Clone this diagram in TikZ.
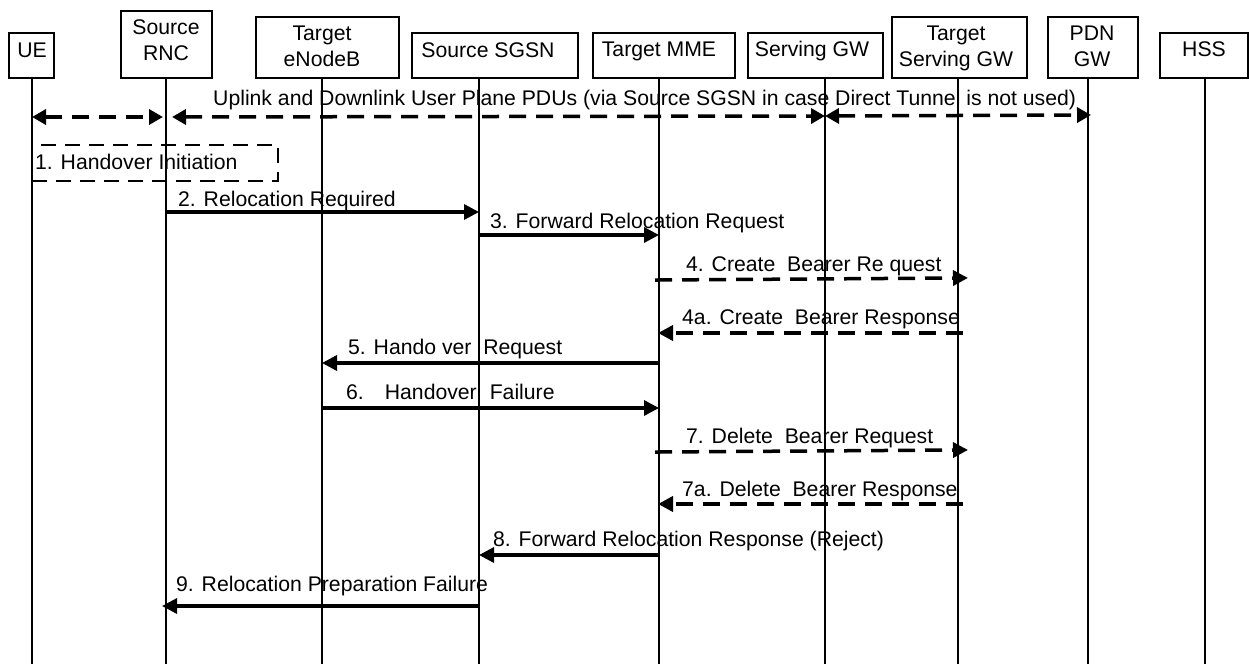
\documentclass[tikz,border=0pt]{standalone}
\usepackage{fontspec}
\setmainfont{Liberation Sans}
\usetikzlibrary{arrows.meta}
\begin{document}
\begin{tikzpicture}[x=1pt,y=-1pt,
  hdrbox/.style={draw, line width=2.9pt, inner sep=0pt},
  hdrtext/.style={align=center, inner sep=0pt, font=\fontsize{21.2}{26}\selectfont},
  msgtext/.style={anchor=base west, inner sep=0pt, font=\fontsize{21.2}{26}\selectfont},
  life/.style={line width=2.3pt},
  solidmsg/.style={line width=3.3pt, -{Triangle[length=15pt,width=15pt]}},
  dashmsg/.style={line width=3.5pt, dash pattern=on 17pt off 10pt, -{Triangle[length=15pt,width=15pt]}},
  dashboth/.style={line width=3.5pt, dash pattern=on 17pt off 10pt, {Triangle[length=14pt,width=15pt]}-{Triangle[length=14pt,width=15pt]}},
]
\useasboundingbox (0,0) rectangle (1249,664);

% header boxes
\node[hdrbox, minimum width=45pt,  minimum height=45pt] (ue)   at (31.5,55.5) {};
\node[hdrbox, minimum width=91pt,  minimum height=67pt] (rnc)  at (166.5,44.5) {};
\node[hdrbox, minimum width=143pt, minimum height=61pt] (enb)  at (327.5,47.5) {};
\node[hdrbox, minimum width=166pt, minimum height=45pt] (sgsn) at (495,55.5) {};
\node[hdrbox, minimum width=142pt, minimum height=45pt] (mme)  at (664,55.5) {};
\node[hdrbox, minimum width=135pt, minimum height=45pt] (sgw)  at (815.5,55.5) {};
\node[hdrbox, minimum width=135pt, minimum height=61pt] (tsgw) at (959.5,47.5) {};
\node[hdrbox, minimum width=90pt,  minimum height=61pt] (pdn)  at (1093,47.5) {};
\node[hdrbox, minimum width=88pt,  minimum height=45pt] (hss)  at (1204,55.5) {};

% header texts
\node[hdrtext] (ue-t)   at (32,50)   {UE};
\node[hdrtext] (rnc-t)  at (166,40)  {Source\\RNC};
\node[hdrtext] (enb-t)  at (322,46)  {Target\\eNodeB};
\node[hdrtext] (sgsn-t) at (488,50)  {Source SGSN};
\node[hdrtext] (mme-t)  at (659,51)  {Target MME};
\node[hdrtext] (sgw-t)  at (812,51)  {Serving GW};
\node[hdrtext] (tsgw-t) at (956,48)  {Target\\Serving GW};
\node[hdrtext] (pdn-t)  at (1092,46) {PDN\\GW};
\node[hdrtext] (hss-t)  at (1204,49) {HSS};

% lifelines
\coordinate (ueL)   at (32,78);
\coordinate (rncL)  at (166,78);
\coordinate (enbL)  at (322,78);
\coordinate (sgsnL) at (479,78);
\coordinate (mmeL)  at (659,78);
\coordinate (sgwL)  at (825,78);
\coordinate (tsgwL) at (958,78);
\coordinate (pdnL)  at (1088,78);
\coordinate (hssL)  at (1205,78);
\coordinate (bot)   at (0,664);
\foreach \l in {ueL,rncL,enbL,sgsnL,mmeL,sgwL,tsgwL,pdnL,hssL}
  \draw[life] (\l) -- (\l |- bot);

% user plane
\node[msgtext] (up-t) at (213,105) {Uplink and Downlink User Plane PDUs (via Source SGSN in case Direct Tunnel is not used)};
\draw[dashboth, shorten >=3pt] (ueL |- 0,117) -- (rncL |- 0,117);
\draw[dashboth, shorten <=6pt] (rncL |- 0,117) -- (sgwL |- 0,116);
\draw[dashboth, shorten >=-3pt] (sgwL |- 0,116) -- (pdnL |- 0,115);

% 1
\node[draw, line width=2.9pt, dash pattern=on 15pt off 9pt, minimum width=246pt, minimum height=36pt, inner sep=0pt] (hoi) at (155,163) {};
\node[msgtext] (m1-t) at (35,169) {1. Handover Initiation};

% 2
\node[msgtext] (m2-t) at (178,206) {2. Relocation Required};
\draw[solidmsg] (rncL |- 0,212) -- (sgsnL |- 0,212);

% 3
\node[msgtext] (m3-t) at (490,228) {3. Forward Relocation Request};
\draw[solidmsg] (sgsnL |- 0,235) -- (mmeL |- 0,235);

% 4
\node[msgtext] (m4-t) at (686,271) {4. Create\ \ Bearer Re quest};
\draw[dashmsg, shorten <=-4pt, shorten >=-10pt] (mmeL |- 0,280) -- (tsgwL |- 0,278);

% 4a
\node[msgtext] (m4a-t) at (682,324) {4a. Create\ \ Bearer Response};
\draw[dashmsg, shorten <=-5pt, shorten >=-1pt] (tsgwL |- 0,333) -- (mmeL |- 0,333);

% 5
\node[msgtext] (m5-t) at (348,354) {5. Hando ver\ \ Request};
\draw[solidmsg] (mmeL |- 0,363) -- (enbL |- 0,363);

% 6
\node[msgtext] (m6-t) at (346,399) {6.\hspace{21pt}Handover\hspace{13pt}Failure};
\draw[solidmsg] (enbL |- 0,408) -- (mmeL |- 0,408);

% 7
\node[msgtext] (m7-t) at (686,443) {7. Delete\ \ Bearer Request};
\draw[dashmsg, shorten <=-4pt, shorten >=-10pt] (mmeL |- 0,452) -- (tsgwL |- 0,450);

% 7a
\node[msgtext] (m7a-t) at (682,496) {7a. Delete\ \ Bearer Response};
\draw[dashmsg, shorten <=-5pt, shorten >=-1pt] (tsgwL |- 0,504) -- (mmeL |- 0,504);

% 8
\node[msgtext] (m8-t) at (493,546) {8. Forward Relocation Response (Reject)};
\draw[solidmsg] (mmeL |- 0,555) -- (sgsnL |- 0,555);

% 9
\node[msgtext] (m9-t) at (176,591) {9. Relocation Preparation Failure};
\draw[solidmsg, shorten >=-4pt] (sgsnL |- 0,606) -- (rncL |- 0,606);

\end{tikzpicture}
\end{document}
